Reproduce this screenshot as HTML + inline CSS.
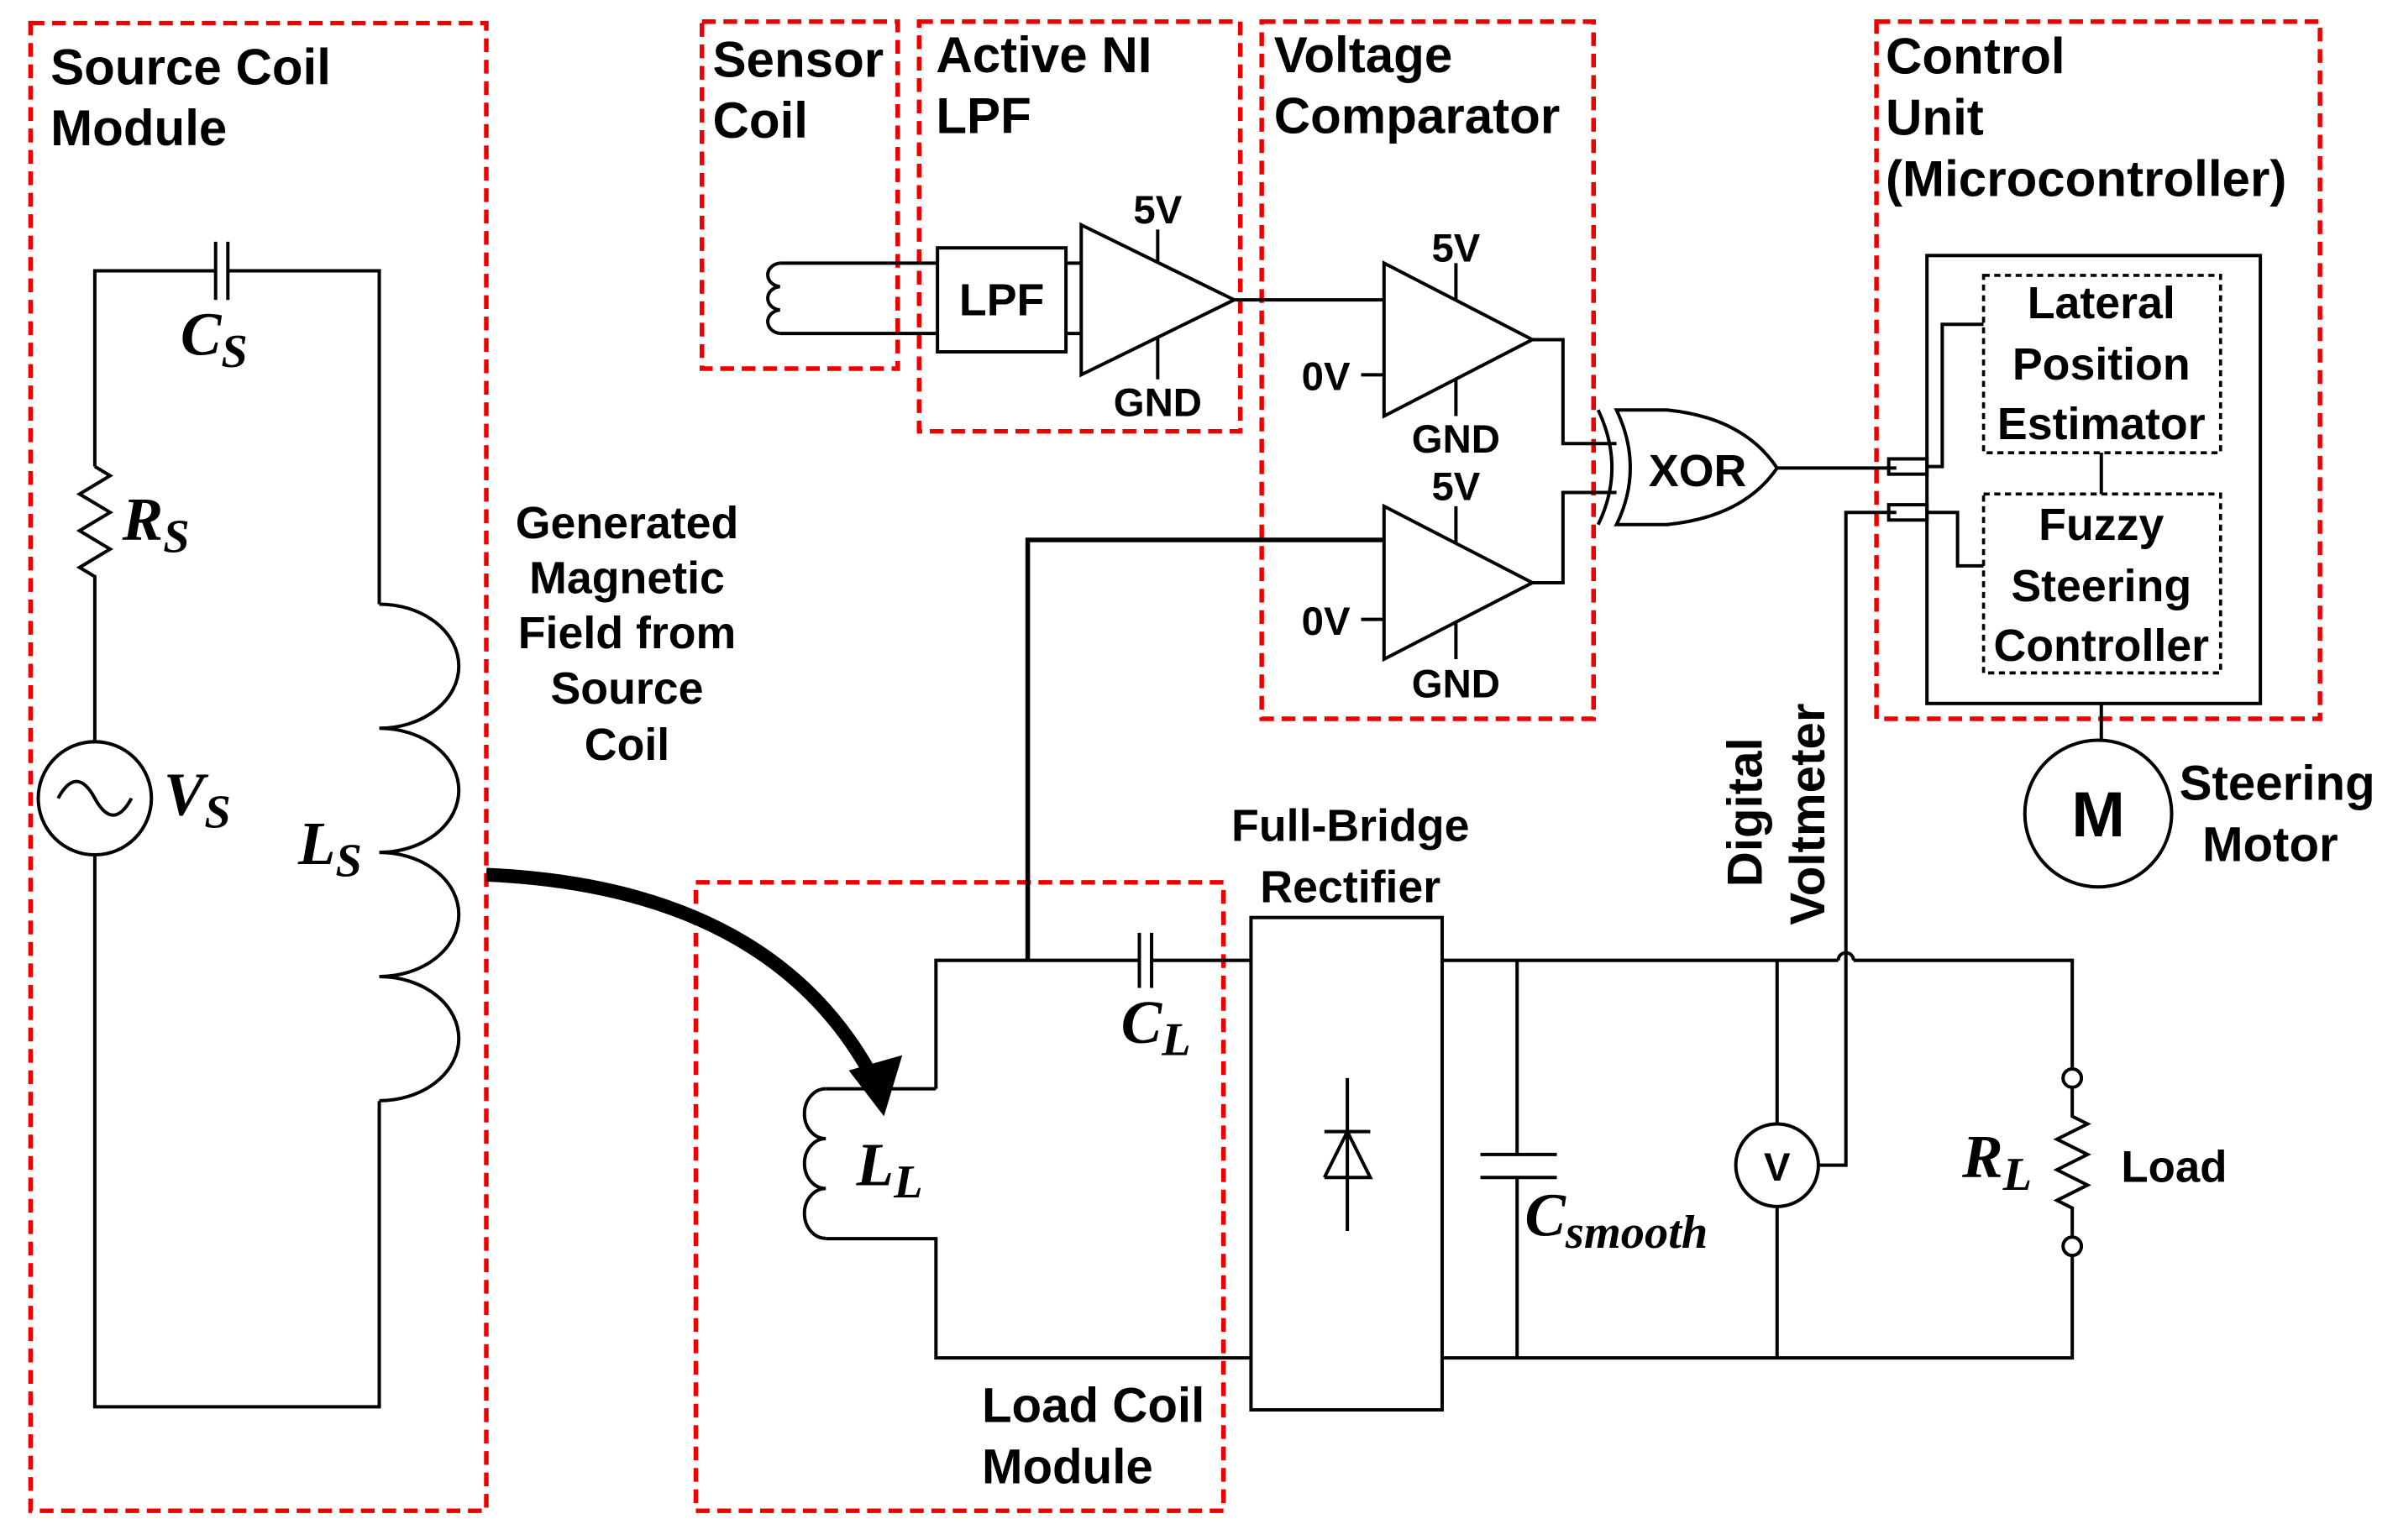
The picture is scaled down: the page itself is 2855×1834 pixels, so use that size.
<!DOCTYPE html>
<html><head><meta charset="utf-8"><style>
html,body{margin:0;padding:0;background:#fff;}
svg{display:block;}
text{font-family:"Liberation Sans",sans-serif;font-weight:bold;fill:#000;}
.m{font-family:"Liberation Serif",serif;font-style:italic;font-weight:bold;}
</style></head><body>
<svg width="2855" height="1834" viewBox="0 0 1568 1007" xmlns="http://www.w3.org/2000/svg">
<g fill="none" stroke="#e00" stroke-width="3" stroke-dasharray="9,5">
<rect x="20" y="15" width="298" height="973"/>
<rect x="455" y="577" width="345" height="411"/>
<rect x="459" y="14" width="128" height="227"/>
<rect x="601" y="14" width="210" height="268"/>
<rect x="825" y="14" width="217" height="456"/>
<rect x="1227" y="14" width="290" height="456"/>
</g>
<g fill="none" stroke="#000" stroke-width="2.2">
<path d="M62 305 V177 H141 M149 177 H248 V395"/>
<path d="M141 158 V196 M149 158 V196"/>
<path d="M62 305 l10 6 l-20 12 l20 12 l-20 12 l20 12 l-20 12 l10 6 V485"/>
<circle cx="62" cy="522" r="37"/>
<path d="M38 522 q12 -22 24 0 t24 0"/>
<path d="M62 559 V920 H248 V720"/>
<path d="M248 395 a52 40.6 0 0 1 0 81.2 a52 40.6 0 0 1 0 81.2 a52 40.6 0 0 1 0 81.2 a52 40.6 0 0 1 0 81.2"/>
<path d="M612 712 V628 H745 M753 628 H818 M745 610 V646 M753 610 V646"/>
<path d="M612 712 H540 M540 810 H612 V888 H818"/>
<path d="M540 712 a14 16.3 0 0 0 0 32.6 a14 16.3 0 0 0 0 32.6 a14 16.3 0 0 0 0 32.6"/>
<path d="M672 628 V353 H905" stroke-width="3"/>
<rect x="818" y="600" width="125" height="322"/>
<path d="M881 705 V805 M866 740 H896 M866 770 H896 L881 740 L866 770"/>
<path d="M943 628 H1202 M1212 628 H1355 V699 M943 888 H1355 V821"/>
<path d="M1202 628 a5 5 0 0 1 10 0"/>
<path d="M992 628 V755 M992 770 V888 M968 755 H1018 M968 770 H1018"/>
<path d="M1162 628 V735 M1162 789 V888"/>
<circle cx="1162" cy="762" r="27"/>
<path d="M1189 762 H1207 V335 H1240"/>
<circle cx="1355" cy="705" r="6"/><circle cx="1355" cy="815" r="6"/>
<path d="M1355 711 V730 l10 5 l-20 10 l20 10 l-20 10 l20 10 l-20 10 l10 5 V809"/>
<path d="M510 172 a9 7.7 0 0 0 0 15.3 a9 7.7 0 0 0 0 15.3 a9 7.7 0 0 0 0 15.3"/>
<path d="M510 172 H613 M510 218 H613"/>
<rect x="613" y="162" width="84" height="68"/>
<path d="M697 172 H707 M697 218 H707"/>
<path d="M707 147 V245 L807 196 Z"/>
<path d="M757 150 V172 M757 220 V248"/>
<path d="M807 196 H905"/>
<path d="M905 172 V272 L1002 222 Z M905 331 V431 L1002 381 Z"/>
<path d="M952 172 V197 M952 248 V272 M952 331 V356 M952 406 V431"/>
<path d="M890 245 H905 M890 405 H905"/>
<path d="M1002 222 H1022 V290 H1057 M1002 381 H1022 V322 H1057"/>
<path d="M1045 268 q18 38 0 75"/>
<path d="M1057 268 q18 38 0 75 H1090 q50 -5 72 -37 q-22 -33 -72 -38 Z"/>
<path d="M1162 306 H1240"/>
<rect x="1260" y="167" width="218" height="293"/>
<rect x="1235" y="300" width="25" height="10"/><rect x="1235" y="330" width="25" height="10"/>
<path d="M1260 305 H1270 V212 H1297 M1260 335 H1280 V370 H1297"/>
<path d="M1374 296 V323"/>
<path d="M1374 460 V484"/>
<circle cx="1372" cy="532" r="48"/>
</g>
<g fill="none" stroke="#000" stroke-width="2" stroke-dasharray="4,3">
<rect x="1297" y="180" width="155" height="116"/>
<rect x="1297" y="323" width="155" height="117"/>
</g>
<path d="M318 572 Q500 580 568 700" fill="none" stroke="#000" stroke-width="9"/>
<path d="M555 700 L590 690 L578 730 Z" fill="#000"/>
<g font-size="33">
<text x="33" y="55">Source Coil</text><text x="33" y="95">Module</text>
<text x="466" y="50">Sensor</text><text x="466" y="90">Coil</text>
<text x="612" y="47">Active NI</text><text x="612" y="87">LPF</text>
<text x="833" y="47">Voltage</text><text x="833" y="87">Comparator</text>
<text x="1233" y="48">Control</text><text x="1233" y="88">Unit</text><text x="1233" y="128">(Microcontroller)</text>
</g>
<g font-size="32">
<text x="642" y="930">Load Coil</text><text x="642" y="970">Module</text>
</g>
<g font-size="29.5" text-anchor="middle">
<text x="410" y="352">Generated</text><text x="410" y="388">Magnetic</text><text x="410" y="424">Field from</text><text x="410" y="460">Source</text><text x="410" y="497">Coil</text>
<text x="883" y="550">Full-Bridge</text><text x="883" y="590">Rectifier</text>
<text x="655" y="206">LPF</text>
<text x="1110" y="318">XOR</text>
<text x="1374" y="208">Lateral</text><text x="1374" y="248">Position</text><text x="1374" y="287">Estimator</text>
<text x="1374" y="353">Fuzzy</text><text x="1374" y="393">Steering</text><text x="1374" y="432">Controller</text>
<text x="1372" y="547" font-size="42">M</text>
<text x="1162" y="772" font-size="26">V</text>
</g>
<g font-size="26" text-anchor="middle">
<text x="757" y="146">5V</text><text x="757" y="272">GND</text>
<text x="952" y="171">5V</text><text x="952" y="296">GND</text>
<text x="952" y="327">5V</text><text x="952" y="456">GND</text>
<text x="867" y="255">0V</text><text x="867" y="415">0V</text>
</g>
<g font-size="32">
<text x="1425" y="523">Steering</text><text x="1440" y="563">Motor</text>
<text transform="translate(1152,580) rotate(-90)">Digital</text>
<text transform="translate(1193,605) rotate(-90)">Voltmeter</text>
</g>
<text x="1387" y="773" font-size="29">Load</text>
<g class="m" font-size="40">
<text class="m" x="118" y="232">C<tspan font-size="31" dy="8">S</tspan></text>
<text class="m" x="80" y="353">R<tspan font-size="31" dy="8">S</tspan></text>
<text class="m" x="107" y="533">V<tspan font-size="31" dy="8">S</tspan></text>
<text class="m" x="195" y="565">L<tspan font-size="31" dy="8">S</tspan></text>
<text class="m" x="733" y="682">C<tspan font-size="31" dy="8">L</tspan></text>
<text class="m" x="560" y="775">L<tspan font-size="31" dy="8">L</tspan></text>
<text class="m" x="997" y="808">C<tspan font-size="31" dy="8">smooth</tspan></text>
<text class="m" x="1283" y="770">R<tspan font-size="31" dy="8">L</tspan></text>
</g>
</svg>
</body></html>
